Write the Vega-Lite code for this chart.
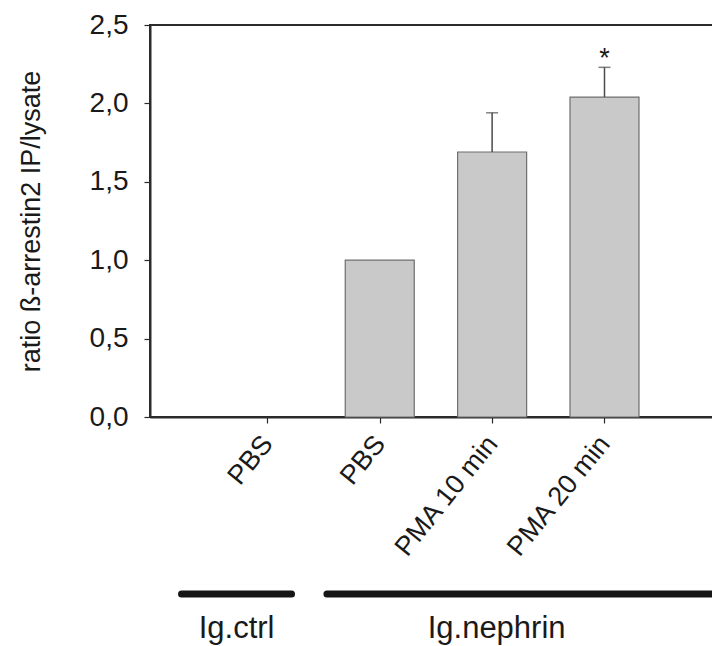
{
  "$schema": "https://vega.github.io/schema/vega-lite/v6.json",
  "width": 564,
  "height": 392,
  "autosize": {"type": "none"},
  "padding": {"left": 150, "top": 25, "right": 0, "bottom": 229},
  "background": "white",
  "config": {
    "font": "Liberation Sans",
    "view": {"stroke": "#2b2b2b", "strokeWidth": 2},
    "axis": {"grid": false, "domainColor": "#2b2b2b", "domainWidth": 2, "tickColor": "#2b2b2b", "tickWidth": 1.2, "tickSize": 6, "labelColor": "#1a1a1a", "titleColor": "#1a1a1a", "labelFont": "Liberation Sans", "titleFont": "Liberation Sans", "titleFontWeight": "normal", "labelOverlap": false, "labelBound": false, "labelFlush": false}
  },
  "datasets": {
    "bars": [
      {"pos": 1, "label": "PBS", "group": "Ig.ctrl", "mean": 0, "upper": 0, "sig": ""},
      {"pos": 2, "label": "PBS", "group": "Ig.nephrin", "mean": 1.0, "upper": 1.0, "sig": ""},
      {"pos": 3, "label": "PMA 10 min", "group": "Ig.nephrin", "mean": 1.69, "upper": 1.94, "sig": ""},
      {"pos": 4, "label": "PMA 20 min", "group": "Ig.nephrin", "mean": 2.04, "upper": 2.23, "sig": "*"}
    ],
    "groups": [
      {"group": "Ig.ctrl", "start": 0.236, "end": 1.215, "center": 0.726},
      {"group": "Ig.nephrin", "start": 1.53, "end": 5.2, "center": 3.04}
    ]
  },
  "layer": [
    {
      "data": {"name": "bars"},
      "transform": [{"filter": "datum.mean > 0"}],
      "mark": {"type": "bar", "size": 69, "fill": "#c9c9c9", "stroke": "#6e6e6e", "strokeWidth": 1.2},
      "encoding": {
        "x": {"field": "pos", "type": "quantitative",
          "scale": {"domain": [0, 4.93], "nice": false, "zero": false},
          "axis": {"values": [1, 2, 3, 4], "labelExpr": "['', 'PBS', 'PBS', 'PMA 10 min', 'PMA 20 min'][datum.value]", "labelAngle": -51, "labelAlign": "right", "labelBaseline": "middle", "labelFontSize": 27, "labelPadding": 16, "title": null}},
        "y": {"field": "mean", "type": "quantitative",
          "scale": {"domain": [0, 2.5], "nice": false},
          "axis": {"values": [0, 0.5, 1, 1.5, 2, 2.5], "labelExpr": "replace(format(datum.value, '.1f'), '.', ',')", "labelFontSize": 28, "labelPadding": 16, "title": "ratio ß-arrestin2 IP/lysate", "titleFontSize": 27, "titlePadding": 44}}
      }
    },
    {
      "data": {"name": "bars"},
      "transform": [{"filter": "datum.upper > datum.mean"}],
      "mark": {"type": "rule", "color": "#4a4a4a", "strokeWidth": 1.5},
      "encoding": {
        "x": {"field": "pos", "type": "quantitative"},
        "y": {"field": "mean", "type": "quantitative"},
        "y2": {"field": "upper"}
      }
    },
    {
      "data": {"name": "bars"},
      "transform": [{"filter": "datum.upper > datum.mean"}],
      "mark": {"type": "tick", "orient": "horizontal", "color": "#4a4a4a", "size": 12, "thickness": 1.5},
      "encoding": {
        "x": {"field": "pos", "type": "quantitative"},
        "y": {"field": "upper", "type": "quantitative"}
      }
    },
    {
      "data": {"name": "bars"},
      "mark": {"type": "text", "fontSize": 27, "baseline": "middle", "dy": -8, "color": "#1a1a1a"},
      "encoding": {
        "x": {"field": "pos", "type": "quantitative"},
        "y": {"field": "upper", "type": "quantitative"},
        "text": {"field": "sig"}
      }
    },
    {
      "data": {"name": "groups"},
      "mark": {"type": "rule", "color": "#161616", "strokeWidth": 7, "strokeCap": "round"},
      "encoding": {
        "x": {"field": "start", "type": "quantitative"},
        "x2": {"field": "end"},
        "y": {"datum": -1.129}
      }
    },
    {
      "data": {"name": "groups"},
      "mark": {"type": "text", "fontSize": 31, "baseline": "alphabetic", "align": "center", "color": "#1a1a1a"},
      "encoding": {
        "x": {"field": "center", "type": "quantitative"},
        "y": {"datum": -1.409},
        "text": {"field": "group"}
      }
    }
  ]
}
